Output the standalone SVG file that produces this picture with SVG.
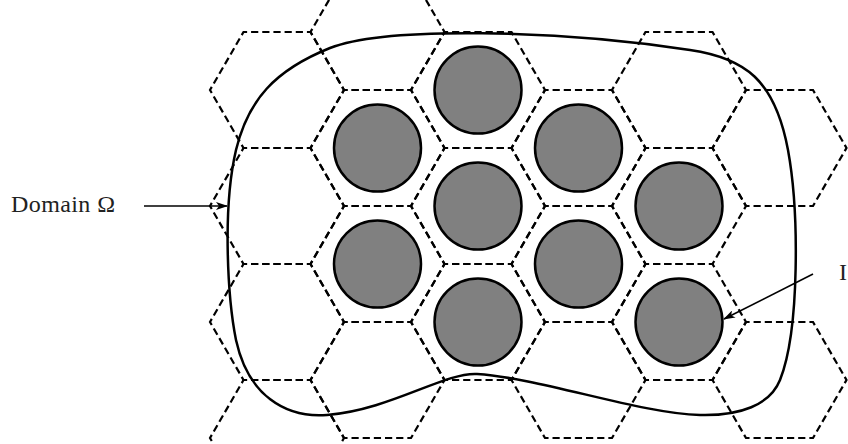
<svg xmlns="http://www.w3.org/2000/svg" xmlns:xlink="http://www.w3.org/1999/xlink" width="848" height="444" viewBox="0 0 848 444">
<style>
.hex{fill:none;stroke:#000;stroke-width:2.2;stroke-dasharray:7.2 3.9667;stroke-dashoffset:3.6}
.dom{fill:none;stroke:#000;stroke-width:2.5}
.inc{fill:#808080;stroke:#000;stroke-width:2.5}
.arr{fill:none;stroke:#000;stroke-width:1.6}
.lbl{font-family:"Liberation Serif","DejaVu Serif",serif;font-size:24px;fill:#222}
</style>
<defs>
<polygon id="hx" points="-67,0 -33.5,-58 33.5,-58 67,0 33.5,58 -33.5,58"/>
<marker id="ah" markerUnits="userSpaceOnUse" markerWidth="12" markerHeight="8" refX="11" refY="4" orient="auto">
<path d="M0,0 L12,4 L0,8 L3,4 z" fill="#000"/>
</marker>
</defs>
<rect width="848" height="444" fill="#fff"/>
<g id="grid" class="hex">
<use href="#hx" x="277" y="90"/>
<use href="#hx" x="277" y="206"/>
<use href="#hx" x="277" y="322"/>
<use href="#hx" x="277" y="438"/>
<use href="#hx" x="377.5" y="32"/>
<use href="#hx" x="377.5" y="148"/>
<use href="#hx" x="377.5" y="264"/>
<use href="#hx" x="377.5" y="380"/>
<use href="#hx" x="478" y="90"/>
<use href="#hx" x="478" y="206"/>
<use href="#hx" x="478" y="322"/>
<use href="#hx" x="578.5" y="148"/>
<use href="#hx" x="578.5" y="264"/>
<use href="#hx" x="578.5" y="380"/>
<use href="#hx" x="679" y="90"/>
<use href="#hx" x="679" y="206"/>
<use href="#hx" x="679" y="322"/>
<use href="#hx" x="779.5" y="148"/>
<use href="#hx" x="779.5" y="380"/>
</g>
<g id="domain">
<path class="dom" d="M236,340 C228,300 222,210 236,150 C248,100 275,70 330,48 C385,26 560,30 690,50 C745,58 775,80 788,150 C799,210 800,330 780,380 C770,405 740,416 700,415 C640,413.5 540,378 477,374 C445,372 390,410 327,415 C285,418.3 248,395 236,340 Z"/>
</g>
<g id="inclusions" class="inc">
<circle cx="478" cy="90" r="43.5"/>
<circle cx="377.5" cy="148" r="43.5"/>
<circle cx="578.5" cy="148" r="43.5"/>
<circle cx="478" cy="206" r="43.5"/>
<circle cx="679" cy="206" r="43.5"/>
<circle cx="377.5" cy="264" r="43.5"/>
<circle cx="578.5" cy="264" r="43.5"/>
<circle cx="478" cy="322" r="43.5"/>
<circle cx="679" cy="322" r="43.5"/>
</g>
<g id="connectors" class="arr">
<line x1="144" y1="206" x2="227" y2="206" marker-end="url(#ah)"/>
<line x1="813" y1="274" x2="724" y2="319" marker-end="url(#ah)"/>
</g>
<g id="labels" class="lbl">
<text x="11" y="212" textLength="104" lengthAdjust="spacing">Domain Ω</text>
<text x="839" y="280">I</text>
</g>
</svg>
